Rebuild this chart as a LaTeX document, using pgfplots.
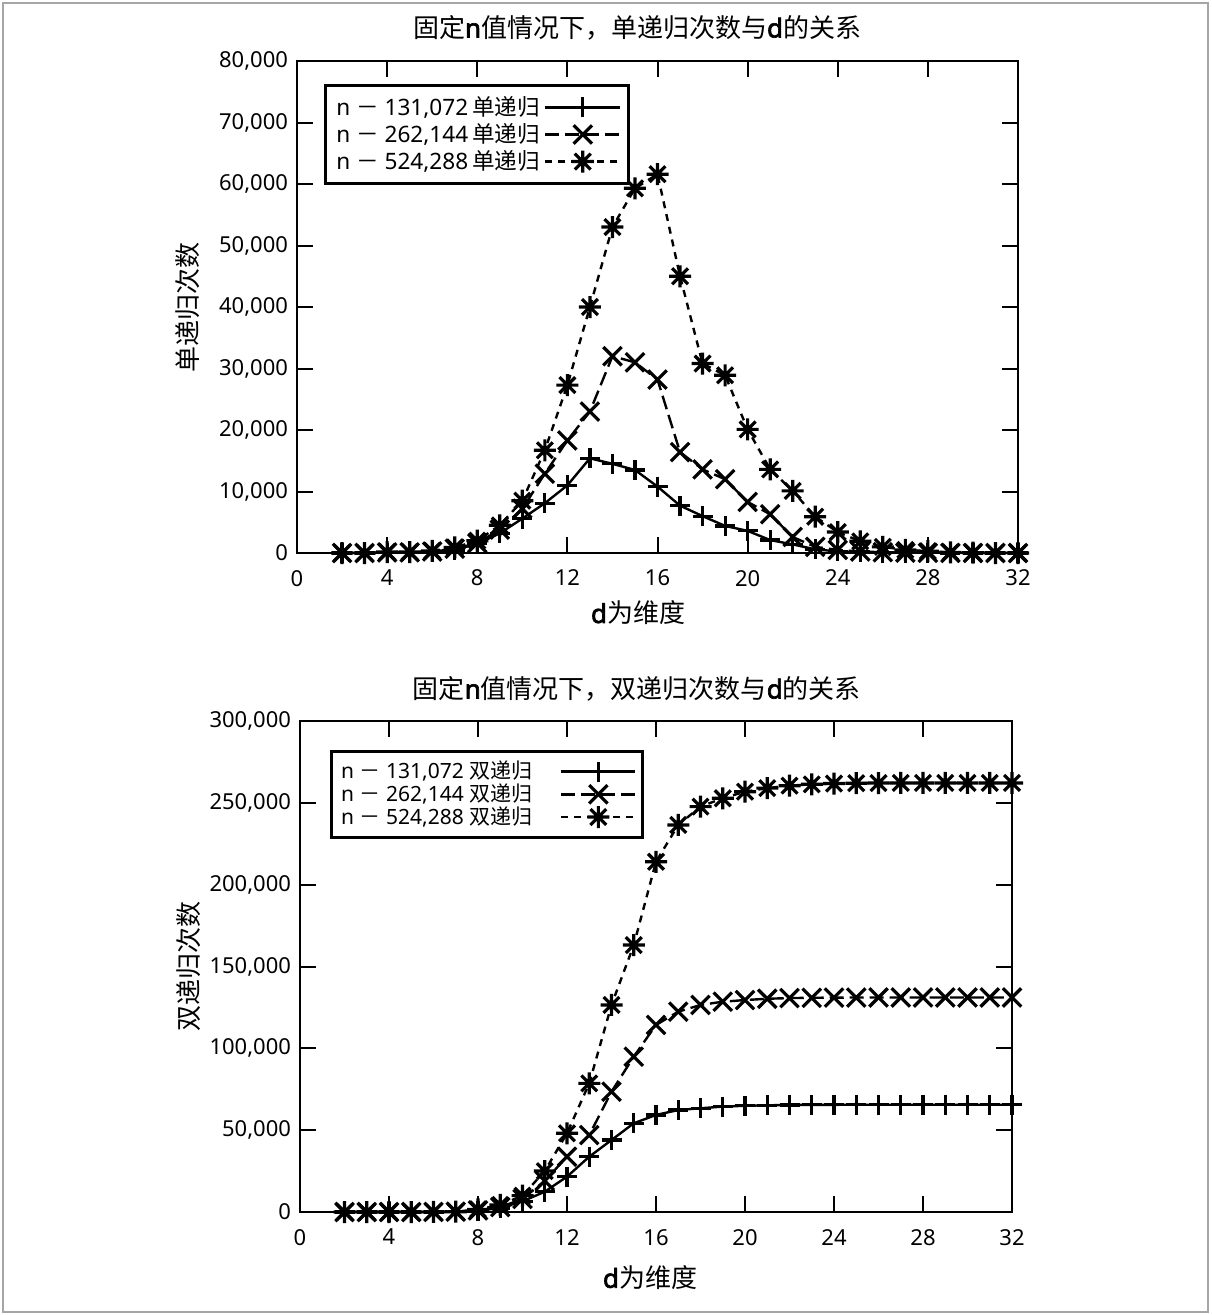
\documentclass[border=0pt]{standalone}
\usepackage{fontspec}
\setmainfont{Noto Sans}
\newfontfamily\cjk{Noto Sans CJK SC}
\newfontfamily\fb{Noto Sans}[FakeBold=2.5]
\usepackage{pgfplots}
\pgfplotsset{compat=1.18}

\pgfdeclareplotmark{gstar}{%
 \pgfpathmoveto{\pgfqpoint{-\pgfplotmarksize}{0pt}}\pgfpathlineto{\pgfqpoint{\pgfplotmarksize}{0pt}}%
 \pgfpathmoveto{\pgfqpoint{0pt}{-\pgfplotmarksize}}\pgfpathlineto{\pgfqpoint{0pt}{\pgfplotmarksize}}%
 \pgfpathmoveto{\pgfqpoint{-0.72\pgfplotmarksize}{-0.72\pgfplotmarksize}}\pgfpathlineto{\pgfqpoint{0.72\pgfplotmarksize}{0.72\pgfplotmarksize}}%
 \pgfpathmoveto{\pgfqpoint{-0.72\pgfplotmarksize}{0.72\pgfplotmarksize}}\pgfpathlineto{\pgfqpoint{0.72\pgfplotmarksize}{-0.72\pgfplotmarksize}}%
 \pgfusepathqstroke}

\pgfplotsset{
 myax/.style={
  scale only axis, anchor=south west,
  xmin=0, xmax=32, xtick={0,4,...,32},
  xticklabels={0,4,8,12,16,20,24,28,32},
  tick align=inside, major tick length=8pt,
  axis line style={line width=1.3pt},
  every tick/.style={black, line width=1pt},
  tick label style={font=\fontsize{11}{13}\selectfont},
  xticklabel style={yshift=-5pt},
  yticklabel style={xshift=-1pt},
  scaled y ticks=false,
  legend cell align=left,
  legend plot pos=right,
  label style={font=\fontsize{13}{15}\selectfont},
  title style={font=\fontsize{13}{15}\selectfont, anchor=center},
 },
 s1/.style={black, solid, line width=1.2pt, mark=+, mark size=5pt, mark options={solid, line width=1.6pt}},
 s2/.style={black, dash pattern=on 7pt off 3pt, line width=1.2pt, mark=x, mark size=6.5pt, mark options={solid, line width=1.6pt}},
 s3/.style={black, dash pattern=on 3.5pt off 3pt, line width=1.2pt, mark=gstar, mark size=5.5pt, mark options={solid, line width=1.6pt}},
}

\begin{document}
\begin{tikzpicture}
\path (0pt,0pt) (605.5pt,-657.5pt);
\draw[gray!70, line width=0.8pt] (1.5pt,-1.5pt) rectangle (604pt,-656pt);

% ---------------- top ----------------
\begin{axis}[myax,
  at={(148.5pt,-276.5pt)}, width=360.5pt, height=246pt,
  ymin=0, ymax=80000, ytick={0,10000,20000,30000,40000,50000,60000,70000,80000},
  yticklabels={0,{10,000},{20,000},{30,000},{40,000},{50,000},{60,000},{70,000},{80,000}},
  title={{\cjk 固定}{\fb n}{\cjk 值情况下，单递归次数与}{\fb d}{\cjk 的关系}},
  title style={at={(axis description cs:0.4716,1.043)}},
  xlabel={{\fb d}{\cjk 为维度}},
  xlabel style={at={(axis description cs:0.473,-0.122)}, anchor=center},
  ylabel={\cjk 单递归次数},
  ylabel style={at={(axis description cs:-0.151,0.5)}, anchor=center},
  legend image code/.code={\draw[mark repeat=2,mark phase=2,#1] plot coordinates {(0cm,0cm) (0.66cm,0cm) (1.32cm,0cm)};},
  legend style={at={(0.0374,0.953)}, anchor=north west, draw=black, line width=1.3pt,
    font=\fontsize{11.3}{13}\selectfont, row sep=-1.5pt, inner sep=3.5pt},
]
\addplot[s1] coordinates {(2,0) (3,0) (4,50) (5,50) (6,150) (7,500) (8,1500) (9,3200) (10,5600) (11,8100) (12,11000) (13,15400) (14,14500) (15,13500) (16,10800) (17,7700) (18,6000) (19,4400) (20,3600) (21,2100) (22,1400) (23,600) (24,250) (25,150) (26,80) (27,40) (28,20) (29,10) (30,5) (31,0) (32,0)};
\addlegendentry{n {\cjk －} 131,072\kern2pt{\cjk 单递归}}
\addplot[s2] coordinates {(2,0) (3,0) (4,100) (5,100) (6,250) (7,700) (8,1600) (9,3800) (10,7200) (11,12900) (12,18300) (13,23000) (14,32000) (15,31000) (16,28200) (17,16400) (18,13600) (19,12000) (20,8300) (21,6300) (22,2600) (23,1000) (24,500) (25,250) (26,120) (27,60) (28,30) (29,15) (30,8) (31,0) (32,0)};
\addlegendentry{n {\cjk －} 262,144\kern2pt{\cjk 单递归}}
\addplot[s3] coordinates {(2,0) (3,0) (4,150) (5,150) (6,350) (7,900) (8,2000) (9,4500) (10,8500) (11,16700) (12,27300) (13,40000) (14,53000) (15,59300) (16,61600) (17,45000) (18,30800) (19,28900) (20,20100) (21,13600) (22,10100) (23,5900) (24,3400) (25,1900) (26,1000) (27,500) (28,300) (29,100) (30,50) (31,0) (32,0)};
\addlegendentry{n {\cjk －} 524,288\kern2pt{\cjk 单递归}}
\end{axis}

% ---------------- bottom ----------------
\begin{axis}[myax,
  at={(150pt,-606pt)}, width=356pt, height=245.5pt,
  ymin=0, ymax=300000, ytick={0,50000,100000,150000,200000,250000,300000},
  yticklabels={0,{50,000},{100,000},{150,000},{200,000},{250,000},{300,000}},
  title={{\cjk 固定}{\fb n}{\cjk 值情况下，双递归次数与}{\fb d}{\cjk 的关系}},
  title style={at={(axis description cs:0.473,1.041)}},
  xlabel={{\fb d}{\cjk 为维度}},
  xlabel style={at={(axis description cs:0.4916,-0.134)}, anchor=center},
  ylabel={\cjk 双递归次数},
  ylabel style={at={(axis description cs:-0.157,0.5)}, anchor=center},
  legend image code/.code={\path (0cm,0cm); \draw[mark repeat=2,mark phase=2,#1] plot coordinates {(0.42cm,0cm) (1.07cm,0cm) (1.72cm,0cm)};},
  legend style={at={(0.042,0.941)}, anchor=north west, draw=black, line width=1.3pt,
    font=\fontsize{10.5}{12}\selectfont, row sep=-3pt, inner sep=3pt},
]
\addplot[s1] coordinates {(2,0) (3,0) (4,0) (5,0) (6,50) (7,200) (8,800) (9,2500) (10,6500) (11,12400) (12,21600) (13,33800) (14,44000) (15,54200) (16,59300) (17,62300) (18,63400) (19,64400) (20,64900) (21,65200) (22,65400) (23,65450) (24,65500) (25,65536) (26,65536) (27,65536) (28,65536) (29,65536) (30,65536) (31,65536) (32,65536)};
\addlegendentry{n {\cjk －} 131,072 {\cjk 双递归}}
\addplot[s2] coordinates {(2,0) (3,0) (4,0) (5,0) (6,50) (7,200) (8,1000) (9,3000) (10,8000) (11,19000) (12,33800) (13,47000) (14,73500) (15,94900) (16,114300) (17,122400) (18,126500) (19,128500) (20,129500) (21,130300) (22,130700) (23,130900) (24,131000) (25,131050) (26,131072) (27,131072) (28,131072) (29,131072) (30,131072) (31,131072) (32,131072)};
\addlegendentry{n {\cjk －} 262,144 {\cjk 双递归}}
\addplot[s3] coordinates {(2,0) (3,0) (4,0) (5,0) (6,50) (7,200) (8,1600) (9,4300) (10,10000) (11,25000) (12,48100) (13,78600) (14,126500) (15,163100) (16,214000) (17,236500) (18,247700) (19,252800) (20,256800) (21,259000) (22,260500) (23,261300) (24,261800) (25,262000) (26,262100) (27,262144) (28,262144) (29,262144) (30,262144) (31,262144) (32,262144)};
\addlegendentry{n {\cjk －} 524,288 {\cjk 双递归}}
\end{axis}
\end{tikzpicture}
\end{document}
